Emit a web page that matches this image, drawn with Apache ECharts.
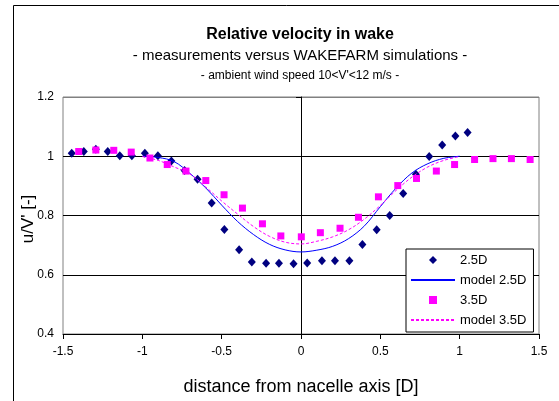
<!DOCTYPE html>
<html>
<head>
<meta charset="utf-8">
<script src="https://cdn.jsdelivr.net/npm/echarts@6/dist/echarts.min.js"></script>
<style>
  html, body { margin: 0; padding: 0; background: #fff; }
  #chart { width: 559px; height: 401px; }
</style>
</head>
<body>
<div id="chart"></div>
<script>
const FONT = '"Liberation Sans", Arial, sans-serif';

const titleText = 'Relative velocity in wake';
const subtitleText = '- measurements versus WAKEFARM simulations -';
const conditionText = "- ambient wind speed 10<V'<12 m/s -";
const xAxisName = 'distance from nacelle axis [D]';
const yAxisName = "u/V' [-]";
const seriesNames = ['2.5D', 'model 2.5D', '3.5D', 'model 3.5D'];

// Measured relative velocity, 2.5 D downstream
const x25 = [-1.445, -1.369, -1.293, -1.218, -1.142, -1.066, -0.984, -0.902, -0.817, -0.734,
             -0.652, -0.563, -0.483, -0.390, -0.310, -0.220, -0.139, -0.047, 0.039, 0.132,
             0.214, 0.305, 0.387, 0.477, 0.559, 0.644, 0.724, 0.808, 0.890, 0.973, 1.050];
const u25 = [1.010, 1.016, 1.024, 1.016, 1.002, 1.002, 1.010, 1.002, 0.984, 0.952,
             0.922, 0.842, 0.753, 0.684, 0.643, 0.639, 0.639, 0.637, 0.640, 0.647,
             0.647, 0.647, 0.702, 0.752, 0.800, 0.874, 0.939, 0.999, 1.038, 1.068, 1.080];

// Measured relative velocity, 3.5 D downstream
const x35 = [-1.401, -1.293, -1.180, -1.070, -0.952, -0.843, -0.725, -0.600, -0.485, -0.369,
             -0.243, -0.127, 0.002, 0.122, 0.246, 0.362, 0.488, 0.610, 0.728, 0.853,
             0.968, 1.094, 1.210, 1.326, 1.444];
const u35 = [1.016, 1.021, 1.020, 1.014, 0.994, 0.972, 0.950, 0.918, 0.870, 0.825,
             0.772, 0.731, 0.728, 0.742, 0.757, 0.794, 0.863, 0.901, 0.925, 0.950,
             0.972, 0.989, 0.992, 0.992, 0.989];

// WAKEFARM model profiles
const xModel = [-1.0, -0.9, -0.8, -0.7, -0.6, -0.5, -0.4, -0.3, -0.2, -0.1, 0,
                0.1, 0.2, 0.3, 0.4, 0.5, 0.6, 0.7, 0.8, 0.9, 1.0];
const uModel25 = [1.000, 0.996, 0.982, 0.942, 0.893, 0.835, 0.780, 0.736, 0.703, 0.684, 0.677,
                  0.683, 0.696, 0.722, 0.765, 0.830, 0.893, 0.944, 0.975, 0.993, 1.000];
const uModel35 = [0.999, 0.986, 0.964, 0.940, 0.896, 0.849, 0.805, 0.763, 0.730, 0.710, 0.704,
                  0.713, 0.728, 0.752, 0.788, 0.834, 0.885, 0.930, 0.964, 0.986, 0.999];

// Axis ranges and steps
const xMin = -1.5, xMax = 1.5, xStep = 0.5;
const yMin = 0.4, yMax = 1.2, yStep = 0.2;

const zip = (xs, ys) => xs.map((x, i) => [x, ys[i]]);

const chart = echarts.init(document.getElementById('chart'), null, { renderer: 'canvas' });

chart.setOption({
  animation: false,
  backgroundColor: '#fff',
  textStyle: { fontFamily: FONT },
  grid: {
    left: 63, top: 97, width: 476, height: 243,
    show: true, borderColor: '#808080', borderWidth: 1, backgroundColor: 'transparent'
  },
  graphic: [
    { type: 'rect', silent: true, shape: { x: 13.5, y: 5.5, width: 700, height: 700 },
      style: { fill: 'none', stroke: '#000', lineWidth: 1 } },
    { type: 'text', silent: true, style: { text: titleText, x: 300, y: 35, textAlign: 'center', textVerticalAlign: 'middle',
      font: 'bold 16px ' + FONT, fill: '#000' } },
    { type: 'text', silent: true, style: { text: subtitleText, x: 300, y: 56, textAlign: 'center', textVerticalAlign: 'middle',
      font: '15px ' + FONT, fill: '#000' } },
    { type: 'text', silent: true, style: { text: conditionText, x: 300, y: 76, textAlign: 'center', textVerticalAlign: 'middle',
      font: '12px ' + FONT, fill: '#000' } },
    { type: 'text', silent: true, rotation: Math.PI / 2, x: 28, y: 219,
      style: { text: yAxisName, x: 0, y: 0, textAlign: 'center', textVerticalAlign: 'middle',
      font: '17px ' + FONT, fill: '#000' } }
  ],
  legend: {
    orient: 'vertical',
    left: 406, top: 249,
    padding: [4, 7, 5, 4],
    itemGap: 6,
    itemWidth: 44,
    itemHeight: 10,
    backgroundColor: '#fff',
    borderColor: '#000',
    borderWidth: 1,
    borderRadius: 0,
    textStyle: { fontFamily: FONT, fontSize: 13, color: '#000', lineHeight: 14 },
    data: [
      { name: seriesNames[0] },
      { name: seriesNames[1], itemStyle: { opacity: 0 } },
      { name: seriesNames[2] },
      { name: seriesNames[3], itemStyle: { opacity: 0 } }
    ]
  },
  xAxis: {
    type: 'value', min: xMin, max: xMax, interval: xStep,
    name: xAxisName, nameLocation: 'middle', nameGap: 44,
    nameTextStyle: { fontFamily: FONT, fontSize: 18, color: '#000' },
    axisLine: { onZero: false, lineStyle: { color: '#000', width: 1 } },
    axisTick: { show: true, inside: false, length: 5, lineStyle: { color: '#000' } },
    axisLabel: { fontFamily: FONT, fontSize: 12, color: '#000', margin: 12 },
    splitLine: { show: false }
  },
  yAxis: {
    type: 'value', min: yMin, max: yMax, interval: yStep,
    axisLine: { show: true, onZero: true, lineStyle: { color: '#000', width: 1 } },
    axisTick: { show: true, inside: false, length: 5, lineStyle: { color: '#000' } },
    axisLabel: { fontFamily: FONT, fontSize: 12, color: '#000', margin: 9 },
    splitLine: { show: true, lineStyle: { color: ['#000', '#000', '#000', '#000', '#808080'], width: 1 } }
  },
  series: [
    {
      name: seriesNames[0], type: 'line', data: zip(x25, u25),
      symbol: 'diamond', symbolSize: [8, 9],
      lineStyle: { color: 'rgba(0,0,0,0)', width: 1 },
      itemStyle: { color: '#000080' }, z: 3
    },
    {
      name: seriesNames[1], type: 'line', data: zip(xModel, uModel25),
      symbol: 'none', smooth: 0.35,
      lineStyle: { color: '#0000ff', width: 1 },
      itemStyle: { color: '#0000ff' }, z: 4
    },
    {
      name: seriesNames[2], type: 'line', data: zip(x35, u35),
      symbol: 'rect', symbolSize: [7, 7],
      lineStyle: { color: 'rgba(0,0,0,0)', width: 1 },
      itemStyle: { color: '#ff00ff' }, z: 5
    },
    {
      name: seriesNames[3], type: 'line', data: zip(xModel, uModel35),
      symbol: 'none', smooth: 0.35,
      lineStyle: { color: '#ff00ff', width: 1, type: [3, 2] },
      itemStyle: { color: '#ff00ff' }, z: 6
    }
  ]
});
</script>
</body>
</html>
